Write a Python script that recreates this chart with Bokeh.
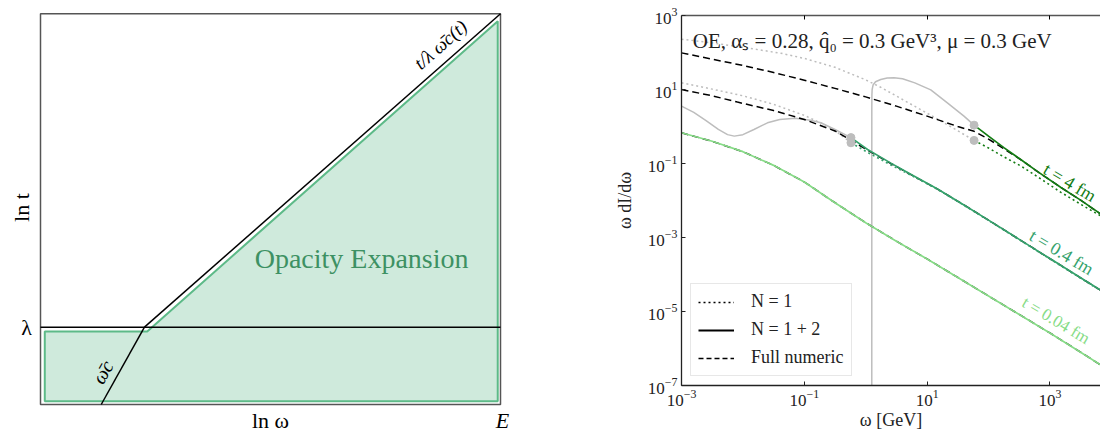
import numpy as np
from bokeh.plotting import figure
from bokeh.layouts import row
from bokeh.models import (Range1d, FixedTicker, LogAxis, Label, Legend, LegendItem)
from bokeh.embed import file_html
from bokeh.resources import INLINE

SERIF = "Liberation Serif"

# ---------------- left panel: schematic (normalised ln-coordinates) ----------------
lam = 0.198            # ln t of lambda
kink_x = 0.226         # ln omega where omega_c meets lambda
wc_bottom_x = 0.132    # omega_c line at the bottom edge
box_x = [0.0, 1.0]
box_y = [0.0, 1.0]
lambda_line_x = [0.0, 1.0]
lambda_line_y = [lam, lam]
diag_x = [kink_x, 1.0]
diag_y = [lam, 1.0]
wc_x = [wc_bottom_x, kink_x]
wc_y = [0.0, lam]
oe_x = [0.0093, 0.0093, 0.232, 0.994, 0.994]
oe_y = [0.0084, 0.187, 0.187, 0.981, 0.0084]

# ---------------- right panel: data (log10 omega, log10 omega dI/domega) ----------------
x_ticks = [1e-3, 1e-1, 1e1, 1e3]
y_ticks = [1e-7, 1e-5, 1e-3, 1e-1, 1e1, 1e3]

# t = 4 fm
t4_full_lx = [-3.0, -2.5, -2.0, -1.5, -1.0, -0.5, 0.0, 0.5, 1.0, 1.5, 1.765, 2.0, 2.25, 2.53, 2.8, 3.18, 3.5, 3.83, 4.0]
t4_full_ly = [1.99, 1.82, 1.65, 1.46, 1.25, 1.03, 0.80, 0.55, 0.28, 0.0, -0.13, -0.34, -0.60, -0.90, -1.22, -1.65, -1.99, -2.37, -2.55]
t4_n1_gray_lx = [-3.0, -2.5, -2.0, -1.38, -1.0, -0.5, 0.0, 0.245, 0.6, 1.0, 1.4, 1.765]
t4_n1_gray_ly = [2.36, 2.26, 2.14, 1.98, 1.84, 1.60, 1.26, 1.06, 0.73, 0.36, -0.02, -0.376]
t4_n12_gray_lx = [0.0990, 0.0995, 0.101, 0.105, 0.12, 0.16, 0.245, 0.35, 0.46, 0.6, 0.8, 1.06, 1.33, 1.6, 1.765]
t4_n12_gray_ly = [-8.0, 0.5, 0.85, 1.0, 1.12, 1.21, 1.27, 1.31, 1.32, 1.29, 1.18, 0.99, 0.64, 0.28, 0.036]
t4_n12_lx = [1.765, 2.0, 2.25, 2.53, 2.8, 3.18, 3.5, 3.83, 4.0]
t4_n12_ly = [0.036, -0.26, -0.57, -0.90, -1.22, -1.65, -1.99, -2.37, -2.55]
t4_n1_lx = [1.765, 2.0, 2.25, 2.53, 2.8, 3.18, 3.5, 3.83, 4.0]
t4_n1_ly = [-0.376, -0.58, -0.82, -1.07, -1.36, -1.78, -2.10, -2.42, -2.58]

# t = 0.4 fm
t04_full_lx = [-3.0, -2.5, -2.09, -1.5, -1.0, -0.5, -0.24, 0.03, 0.41, 0.8, 1.17, 1.6, 2.0, 2.5, 3.0, 3.5, 3.83, 4.0]
t04_full_ly = [1.0, 0.83, 0.66, 0.43, 0.19, -0.12, -0.37, -0.64, -1.0, -1.36, -1.69, -2.12, -2.53, -3.05, -3.57, -4.09, -4.43, -4.61]
t04_n1_gray_lx = [-3.0, -2.5, -2.0, -1.5, -1.0, -0.7, -0.45, -0.24]
t04_n1_gray_ly = [1.18, 1.01, 0.83, 0.60, 0.30, 0.07, -0.17, -0.44]
t04_n12_gray_lx = [-3.0, -2.8, -2.6, -2.4, -2.25, -2.14, -2.0, -1.82, -1.6, -1.4, -1.15, -0.9, -0.73, -0.5, -0.24]
t04_n12_gray_ly = [0.55, 0.38, 0.16, -0.08, -0.22, -0.26, -0.22, -0.08, 0.10, 0.19, 0.22, 0.17, 0.10, -0.08, -0.30]
t04_n12_lx = [-0.24, 0.03, 0.41, 0.8, 1.17, 1.6, 2.0, 2.5, 3.0, 3.5, 3.83, 4.0]
t04_n12_ly = [-0.30, -0.62, -0.99, -1.35, -1.69, -2.12, -2.53, -3.05, -3.57, -4.09, -4.43, -4.61]
t04_n1_lx = [-0.24, 0.03, 0.41, 0.8, 1.17, 1.6, 2.0, 2.5, 3.0, 3.5, 3.83, 4.0]
t04_n1_ly = [-0.44, -0.70, -1.04, -1.37, -1.70, -2.13, -2.54, -3.06, -3.58, -4.10, -4.44, -4.62]

# t = 0.04 fm
t004_lx = [-3.0, -2.5, -2.0, -1.5, -1.0, -0.5, 0.0, 0.5, 1.0, 1.5, 2.0, 2.5, 3.0, 3.5, 4.0]
t004_ly = [-0.17, -0.40, -0.68, -1.05, -1.50, -2.06, -2.60, -3.10, -3.58, -4.08, -4.58, -5.08, -5.58, -6.10, -6.63]

# transition points (grey dots)
dots_lx = [-0.24, -0.24, 1.765, 1.765]
dots_ly = [-0.30, -0.44, 0.036, -0.376]

C4, C04, C004, GRAY = "#137c13", "#35a26c", "#86dc86", "#bdbdbd"
DOT = "2 3"
DASH = "7 4"


def p10(a):
    return np.power(10.0, np.asarray(a, dtype=float))


# ================= left figure (frame = whole canvas, box drawn as glyph) =================
p1 = figure(width=552, height=432,
            x_range=Range1d(-40 / 460, 512 / 460), y_range=Range1d(-28 / 390.7, 404 / 390.7),
            x_axis_location=None, y_axis_location=None, toolbar_location=None,
            output_backend="svg", frame_align=False,
            min_border=0, min_border_left=0, min_border_right=0,
            min_border_top=0, min_border_bottom=0)
p1.grid.visible = False
p1.outline_line_color = None

p1.patch(oe_x, oe_y, fill_color="#cfeadc", line_color="#5dba88", line_width=2)
p1.quad(left=box_x[0], right=box_x[1], bottom=box_y[0], top=box_y[1],
        fill_color=None, line_color="#555555", line_width=1.5)
p1.line(lambda_line_x, lambda_line_y, line_color="black", line_width=1.5)
p1.line(diag_x, diag_y, line_color="black", line_width=1.5)
p1.line(wc_x, wc_y, line_color="black", line_width=1.5)

p1.add_layout(Label(x=0.698, y=0.374, text="Opacity Expansion", text_font=SERIF,
                    text_font_size="28px", text_color="#3d9163",
                    text_align="center", text_baseline="middle"))
p1.add_layout(Label(x=0.8696, y=0.921, text="t/λ ω\u0304c(t)", text_font=SERIF,
                    text_font_size="19px", text_font_style="italic", text_color="black",
                    angle=0.7226, text_align="center", text_baseline="middle"))
p1.add_layout(Label(x=0.135, y=0.083, text="ω\u0304c", text_font=SERIF,
                    text_font_size="20px", text_font_style="italic", text_color="black",
                    angle=1.059, text_align="center", text_baseline="middle"))
p1.add_layout(Label(x=-0.0413, y=0.504, text="ln t", text_font=SERIF,
                    text_font_size="22px", angle=np.pi / 2, text_color="black",
                    text_align="center", text_baseline="middle"))
p1.add_layout(Label(x=-0.0304, y=lam, text="λ", text_font=SERIF,
                    text_font_size="22px", text_color="black",
                    text_align="center", text_baseline="middle"))
p1.add_layout(Label(x=0.5, y=-0.041, text="ln ω", text_font=SERIF,
                    text_font_size="22px", text_color="black",
                    text_align="center", text_baseline="middle"))
p1.add_layout(Label(x=1.0043, y=-0.041, text="E", text_font=SERIF,
                    text_font_size="22px", text_font_style="italic", text_color="black",
                    text_align="center", text_baseline="middle"))

# ================= right figure =================
p2 = figure(width=548, height=432, x_axis_type="log", y_axis_type="log",
            x_range=Range1d(1e-3, 6668), y_range=Range1d(1e-7, 1e3),
            toolbar_location=None, output_backend="svg", frame_align=False,
            min_border_left=129, min_border_right=0, min_border_top=15, min_border_bottom=45)
p2.grid.visible = False
p2.outline_line_color = None

for ax, ticks in ((p2.xaxis[0], x_ticks), (p2.yaxis[0], y_ticks)):
    ax.ticker = FixedTicker(ticks=ticks, minor_ticks=[])
    ax.major_tick_in = 4
    ax.major_tick_out = 0
    ax.minor_tick_in = 0
    ax.minor_tick_out = 0
    ax.axis_line_color = "#222222"
    ax.axis_line_width = 1.3
    ax.major_tick_line_color = "#222222"
    ax.major_label_text_font = SERIF
    ax.major_label_text_font_size = "17px"
    ax.major_label_text_color = "#222222"
    ax.major_label_standoff = 4
    ax.axis_label_text_font = SERIF
    ax.axis_label_text_font_size = "18px"
    ax.axis_label_text_font_style = "normal"
    ax.axis_label_text_color = "#222222"

p2.xaxis[0].axis_label = "ω [GeV]"
p2.xaxis[0].axis_label_standoff = 1
p2.yaxis[0].axis_label = "ω dI/dω"
p2.yaxis[0].axis_label_standoff = 10

top_ax = LogAxis(ticker=FixedTicker(ticks=x_ticks[1:], minor_ticks=[]),
                 major_tick_in=4, major_tick_out=0, minor_tick_in=0, minor_tick_out=0,
                 axis_line_color="#555555", axis_line_width=1.3,
                 major_label_text_font_size="2px", major_label_text_alpha=0.0,
                 major_label_standoff=0)
p2.add_layout(top_ax, "above")

# grey (outside validity) pieces
p2.line(p10(t4_n1_gray_lx), p10(t4_n1_gray_ly), line_color=GRAY, line_width=1.5, line_dash=DOT)
p2.line(p10(t04_n1_gray_lx), p10(t04_n1_gray_ly), line_color=GRAY, line_width=1.5, line_dash=DOT)
p2.line(p10(t4_n12_gray_lx), p10(t4_n12_gray_ly), line_color=GRAY, line_width=1.5)
p2.line(p10(t04_n12_gray_lx), p10(t04_n12_gray_ly), line_color=GRAY, line_width=1.5)

# full numeric
p2.line(p10(t4_full_lx), p10(t4_full_ly), line_color="black", line_width=1.5, line_dash=DASH)
p2.line(p10(t04_full_lx), p10(t04_full_ly), line_color="black", line_width=1.5, line_dash=DASH)
p2.line(p10(t004_lx), p10(t004_ly), line_color="black", line_width=1.5, line_dash=DASH)

# opacity expansion N=1 (dotted) and N=1+2 (solid)
p2.line(p10(t4_n1_lx), p10(t4_n1_ly), line_color=C4, line_width=1.6, line_dash=DOT)
p2.line(p10(t04_n1_lx), p10(t04_n1_ly), line_color=C04, line_width=1.6, line_dash=DOT)
p2.line(p10(t4_n12_lx), p10(t4_n12_ly), line_color=C4, line_width=1.7)
p2.line(p10(t04_n12_lx), p10(t04_n12_ly), line_color=C04, line_width=1.7)
p2.line(p10(t004_lx), p10(t004_ly), line_color=C004, line_width=1.7)

p2.scatter(p10(dots_lx), p10(dots_ly), size=8, color=GRAY, line_color=GRAY)

# curve labels
for txt, lx, ly, col, fs in (("t = 4 fm", 3.324, -1.513, C4, "18px"),
                             ("t = 0.4 fm", 3.19, -3.40, C04, "18px"),
                             ("t = 0.04 fm", 3.10, -5.24, C004, "17px")):
    p2.add_layout(Label(x=10 ** lx, y=10 ** ly, text=txt, text_font=SERIF,
                        text_font_size=fs, text_color=col, angle=-0.54,
                        text_align="center", text_baseline="middle"))

p2.add_layout(Label(x=10 ** -2.816, y=10 ** 2.323,
                    text="OE, αₛ = 0.28, q\u0302₀ = 0.3 GeV³, μ = 0.3 GeV",
                    text_font=SERIF, text_font_size="21px", text_color="#222222",
                    text_align="left", text_baseline="middle"))

# legend (black proxies, hidden renderers)
lr1 = p2.line(p10(t004_lx), p10(t004_ly), line_color="black", line_width=1.5,
              line_dash=DOT, visible=False)
lr2 = p2.line(p10(t004_lx), p10(t004_ly), line_color="black", line_width=1.8, visible=False)
lr3 = p2.line(p10(t004_lx), p10(t004_ly), line_color="black", line_width=1.5,
              line_dash="5 3", visible=False)
legend = Legend(items=[LegendItem(label="N = 1", renderers=[lr1]),
                       LegendItem(label="N = 1 + 2", renderers=[lr2]),
                       LegendItem(label="Full numeric", renderers=[lr3])],
                location=(9, 9), label_text_font=SERIF, label_text_font_size="18px",
                label_text_color="#222222", glyph_width=36, glyph_height=20,
                label_height=20, label_standoff=17, spacing=7, padding=7, margin=0,
                border_line_color="#d0d0d0", border_line_width=1,
                background_fill_color="white", background_fill_alpha=0.85,
                inactive_fill_alpha=0.0)
p2.add_layout(legend)

layout = row(p1, p2)
open("out.html", "w").write(file_html(layout, INLINE))
